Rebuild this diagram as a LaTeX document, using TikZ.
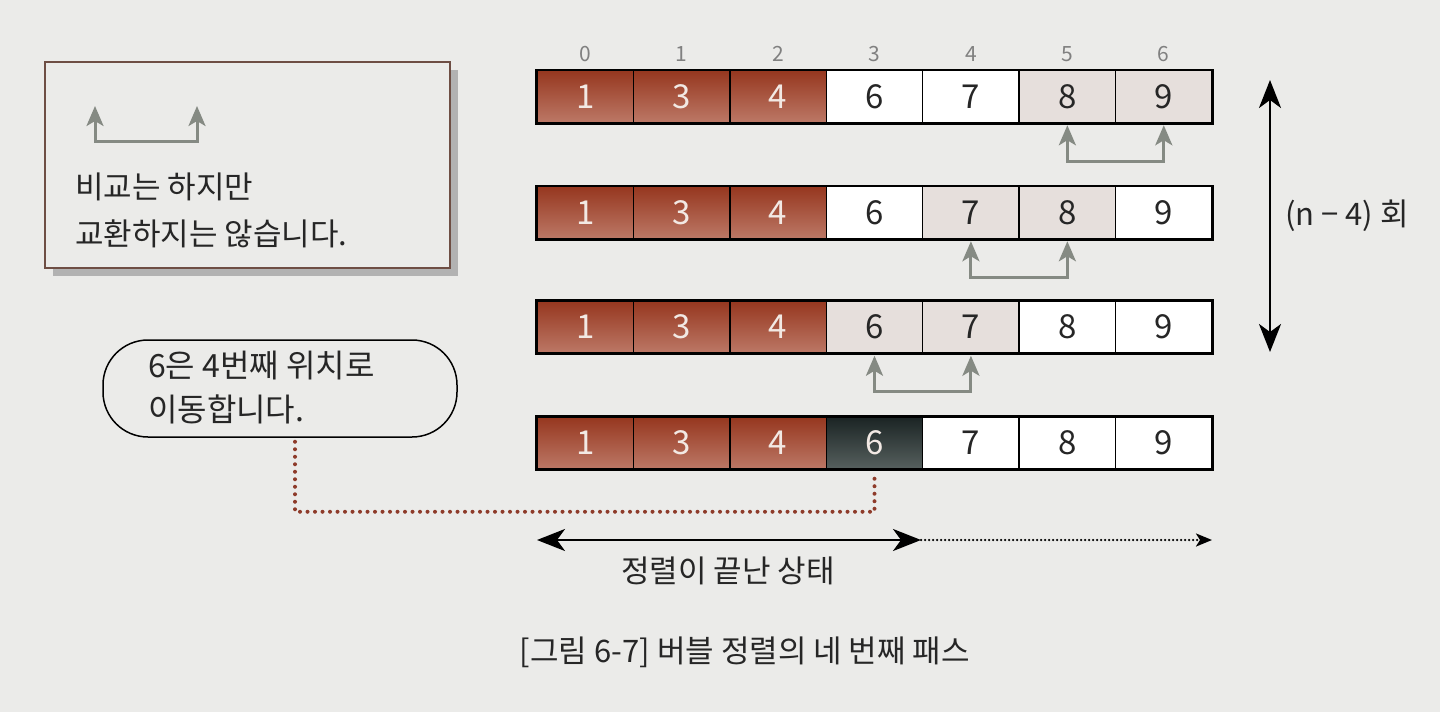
\documentclass[tikz,border=0pt]{standalone}
\usepackage{fontspec}
\setmainfont{Noto Sans CJK KR}
\usetikzlibrary{arrows.meta,shadows}

\definecolor{pagebg}{HTML}{EBEBE9}
\definecolor{brownTop}{HTML}{96371F}
\definecolor{brownBot}{HTML}{BC7866}
\definecolor{cmpEdge}{HTML}{E6DFDC}
\definecolor{cmpMid}{HTML}{CDBCB6}
\definecolor{darkTop}{HTML}{1B2424}
\definecolor{darkBot}{HTML}{56605E}
\definecolor{cellText}{HTML}{F2E9E4}
\definecolor{arrowGray}{HTML}{858A83}
\definecolor{noteLine}{HTML}{6E4E44}
\definecolor{dotBrown}{HTML}{8E3B2A}

\tikzset{
  cell/.style={draw=black,line width=1.5pt,minimum width=96.4pt,minimum height=52pt,
    inner sep=0pt,fill=white,text=black!85,font=\fontsize{33}{33}\selectfont},
  sorted/.style={cell,top color=brownTop,bottom color=brownBot,text=cellText},
  compared/.style={cell,top color=cmpEdge,middle color=cmpMid,bottom color=cmpEdge},
  fixed/.style={cell,top color=darkTop,bottom color=darkBot,text=cellText},
  idx/.style={text=black!50,font=\fontsize{21}{21}\selectfont,inner sep=0pt},
  swaparrow/.style={draw=arrowGray,line width=3pt,
    {Stealth[length=20pt,width=17pt,inset=5pt]}-{Stealth[length=20pt,width=17pt,inset=5pt]}},
  bigarrow/.style={draw=black,line width=2.5pt,
    {Stealth[length=28pt,width=22pt,inset=8pt]}-{Stealth[length=28pt,width=22pt,inset=8pt]}},
  label/.style={text=black!85,font=\fontsize{31}{47}\selectfont,align=left,inner sep=0pt}
}

\begin{document}
\begin{tikzpicture}[x=1pt,y=-1pt]
   \useasboundingbox[fill=pagebg] (0,0) rectangle (1440,712);

   % the four rows of the array
   \foreach \v/\k [count=\c from 0] in {1/sorted,3/sorted,4/sorted,6/cell,7/cell,8/compared,9/compared}
     \node[\k] (r1-\c) at ({585.2+96.43*\c},96.5) {\v};
   \foreach \v/\k [count=\c from 0] in {1/sorted,3/sorted,4/sorted,6/cell,7/compared,8/compared,9/cell}
     \node[\k] (r2-\c) at ({585.2+96.43*\c},212.5) {\v};
   \foreach \v/\k [count=\c from 0] in {1/sorted,3/sorted,4/sorted,6/compared,7/compared,8/cell,9/cell}
     \node[\k] (r3-\c) at ({585.2+96.43*\c},327) {\v};
   \foreach \v/\k [count=\c from 0] in {1/sorted,3/sorted,4/sorted,6/fixed,7/cell,8/cell,9/cell}
     \node[\k] (r4-\c) at ({585.2+96.43*\c},443) {\v};
   \foreach \r in {1,...,4}
     \draw[line width=2.5pt] (r\r-0.north west) rectangle (r\r-6.south east);

   % indices
   \foreach \c in {0,...,6}
     \node[idx,anchor=south] (idx\c) at ([yshift=8pt]r1-\c.north) {\c};

   % compared pairs
   \draw[swaparrow] ([yshift=-2pt]r1-5.south) -- ++(0,36) -| ([yshift=-2pt]r1-6.south);
   \draw[swaparrow] ([yshift=-2pt]r2-4.south) -- ++(0,36) -| ([yshift=-2pt]r2-5.south);
   \draw[swaparrow] ([yshift=-2pt]r3-3.south) -- ++(0,36) -| ([yshift=-2pt]r3-4.south);

   % repeat count
   \coordinate (rtop) at (1270,80);
   \coordinate (rbot) at (1270,352);
   \draw[bigarrow] (rtop) -- (rbot);
   \node[label,anchor=west] (times) at (1285,216) {(n − 4) 회};

   % legend box
   \node[draw=noteLine,line width=1.5pt,fill=pagebg,minimum width=405pt,minimum height=206pt,
     drop shadow={shadow xshift=8pt,shadow yshift=-8pt,fill=black!30,opacity=1}] (note) at (247.5,165) {};
   \coordinate (la) at (95,106);
   \coordinate (lb) at (197,106);
   \draw[swaparrow] (la) -- ++(0,35) -| (lb);
   \node[label,anchor=north west] (notetext) at (75,173) {비교는 하지만\\교환하지는 않습니다.};

   % moved element
   \node[draw=black,line width=1.5pt,rounded corners=45pt,minimum width=354pt,minimum height=97pt] (moved) at (280,388.5) {};
   \node[label,anchor=north west,font=\fontsize{32}{44}\selectfont] (movedtext) at (148,351) {6은 4번째 위치로\\이동합니다.};
   \draw[dotBrown,line width=4pt,line cap=round,dash pattern=on 0pt off 7.5pt]
     ([xshift=15pt,yshift=-4pt]moved.south) -- ++(0,70) -| ([yshift=-4pt]r4-3.south);

   % sorted part
   \coordinate (sl) at (537,540);
   \coordinate (sm) at (921,540);
   \coordinate (sr) at (1212,540);
   \draw[bigarrow] (sl) -- (sm);
   \draw[line width=2.5pt,line cap=round,dash pattern=on 0pt off 4pt,-{Stealth[length=16pt,width=13pt,inset=4pt]}] (sm) -- (sr);
   \node[label] (sortedtext) at (728,571) {정렬이 끝난 상태};

   % caption
   \node[label] (caption) at (745,652) {[그림 6-7] 버블 정렬의 네 번째 패스};
\end{tikzpicture}
\end{document}
